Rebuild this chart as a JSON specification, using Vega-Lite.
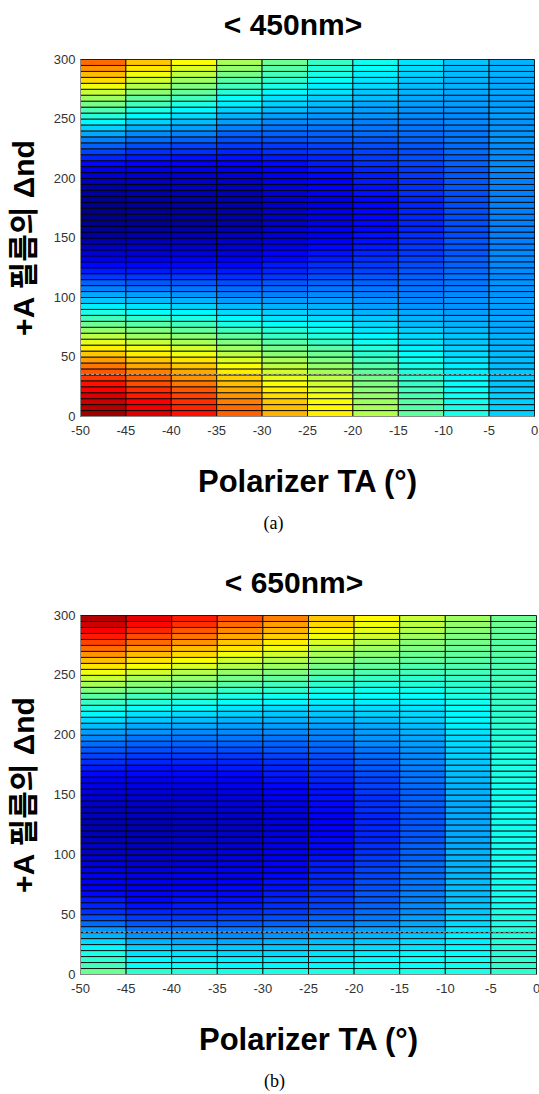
{
"$schema": "https://vega.github.io/schema/vega-lite/v6.json",
"background": "white",
"padding": {"left": 9, "top": 11, "right": 0, "bottom": 0},
"config": {
  "view": {"stroke": null},
  "font": "Liberation Sans",
  "title": {"font": "Liberation Sans", "fontSize": 30, "fontWeight": "bold", "color": "black"},
  "axis": {"labelFont": "Liberation Sans", "labelFontSize": 13, "labelColor": "#333", "labelFlush": false, "ticks": false, "grid": false, "domainColor": "#888", "titleFont": "Liberation Sans, Noto Sans CJK KR", "titleFontWeight": "bold", "titleColor": "black"},
  "concat": {"spacing": 36}
},
"datasets": {
"a": [
{"x":-50,"y":0,"v":0.97},{"x":-50,"y":5,"v":0.95},{"x":-50,"y":10,"v":0.93},{"x":-50,"y":15,"v":0.91},{"x":-50,"y":20,"v":0.88},{"x":-50,"y":25,"v":0.86},{"x":-50,"y":30,"v":0.82},{"x":-50,"y":35,"v":0.79},{"x":-50,"y":40,"v":0.76},{"x":-50,"y":45,"v":0.72},{"x":-50,"y":50,"v":0.68},{"x":-50,"y":55,"v":0.64},{"x":-50,"y":60,"v":0.60},{"x":-50,"y":65,"v":0.56},{"x":-50,"y":70,"v":0.52},{"x":-50,"y":75,"v":0.48},{"x":-50,"y":80,"v":0.44},{"x":-50,"y":85,"v":0.40},{"x":-50,"y":90,"v":0.36},{"x":-50,"y":95,"v":0.32},{"x":-50,"y":100,"v":0.29},{"x":-50,"y":105,"v":0.25},{"x":-50,"y":110,"v":0.22},{"x":-50,"y":115,"v":0.18},{"x":-50,"y":120,"v":0.15},{"x":-50,"y":125,"v":0.13},{"x":-50,"y":130,"v":0.10},{"x":-50,"y":135,"v":0.08},{"x":-50,"y":140,"v":0.06},{"x":-50,"y":145,"v":0.04},{"x":-50,"y":150,"v":0.03},{"x":-50,"y":155,"v":0.02},{"x":-50,"y":160,"v":0.01},{"x":-50,"y":165,"v":0.01},
{"x":-50,"y":170,"v":0.01},{"x":-50,"y":175,"v":0.01},{"x":-50,"y":180,"v":0.02},{"x":-50,"y":185,"v":0.03},{"x":-50,"y":190,"v":0.04},{"x":-50,"y":195,"v":0.06},{"x":-50,"y":200,"v":0.08},{"x":-50,"y":205,"v":0.10},{"x":-50,"y":210,"v":0.13},{"x":-50,"y":215,"v":0.16},{"x":-50,"y":220,"v":0.19},{"x":-50,"y":225,"v":0.22},{"x":-50,"y":230,"v":0.25},{"x":-50,"y":235,"v":0.29},{"x":-50,"y":240,"v":0.33},{"x":-50,"y":245,"v":0.37},{"x":-50,"y":250,"v":0.41},{"x":-50,"y":255,"v":0.45},{"x":-50,"y":260,"v":0.49},{"x":-50,"y":265,"v":0.53},{"x":-50,"y":270,"v":0.57},{"x":-50,"y":275,"v":0.61},{"x":-50,"y":280,"v":0.66},{"x":-50,"y":285,"v":0.69},{"x":-50,"y":290,"v":0.73},{"x":-50,"y":295,"v":0.77},
{"x":-45,"y":0,"v":0.91},{"x":-45,"y":5,"v":0.89},{"x":-45,"y":10,"v":0.88},{"x":-45,"y":15,"v":0.85},{"x":-45,"y":20,"v":0.83},{"x":-45,"y":25,"v":0.80},{"x":-45,"y":30,"v":0.78},{"x":-45,"y":35,"v":0.75},{"x":-45,"y":40,"v":0.71},{"x":-45,"y":45,"v":0.68},{"x":-45,"y":50,"v":0.64},{"x":-45,"y":55,"v":0.61},{"x":-45,"y":60,"v":0.57},{"x":-45,"y":65,"v":0.53},{"x":-45,"y":70,"v":0.50},{"x":-45,"y":75,"v":0.46},{"x":-45,"y":80,"v":0.42},{"x":-45,"y":85,"v":0.38},{"x":-45,"y":90,"v":0.35},{"x":-45,"y":95,"v":0.31},{"x":-45,"y":100,"v":0.28},{"x":-45,"y":105,"v":0.24},{"x":-45,"y":110,"v":0.21},{"x":-45,"y":115,"v":0.18},{"x":-45,"y":120,"v":0.15},{"x":-45,"y":125,"v":0.13},{"x":-45,"y":130,"v":0.10},{"x":-45,"y":135,"v":0.08},{"x":-45,"y":140,"v":0.07},{"x":-45,"y":145,"v":0.05},{"x":-45,"y":150,"v":0.04},{"x":-45,"y":155,"v":0.03},{"x":-45,"y":160,"v":0.02},{"x":-45,"y":165,"v":0.02},
{"x":-45,"y":170,"v":0.02},{"x":-45,"y":175,"v":0.02},{"x":-45,"y":180,"v":0.03},{"x":-45,"y":185,"v":0.04},{"x":-45,"y":190,"v":0.05},{"x":-45,"y":195,"v":0.06},{"x":-45,"y":200,"v":0.08},{"x":-45,"y":205,"v":0.10},{"x":-45,"y":210,"v":0.12},{"x":-45,"y":215,"v":0.15},{"x":-45,"y":220,"v":0.17},{"x":-45,"y":225,"v":0.20},{"x":-45,"y":230,"v":0.23},{"x":-45,"y":235,"v":0.26},{"x":-45,"y":240,"v":0.30},{"x":-45,"y":245,"v":0.33},{"x":-45,"y":250,"v":0.37},{"x":-45,"y":255,"v":0.40},{"x":-45,"y":260,"v":0.44},{"x":-45,"y":265,"v":0.47},{"x":-45,"y":270,"v":0.51},{"x":-45,"y":275,"v":0.55},{"x":-45,"y":280,"v":0.58},{"x":-45,"y":285,"v":0.61},{"x":-45,"y":290,"v":0.65},{"x":-45,"y":295,"v":0.68},
{"x":-40,"y":0,"v":0.86},{"x":-40,"y":5,"v":0.84},{"x":-40,"y":10,"v":0.83},{"x":-40,"y":15,"v":0.81},{"x":-40,"y":20,"v":0.79},{"x":-40,"y":25,"v":0.76},{"x":-40,"y":30,"v":0.73},{"x":-40,"y":35,"v":0.71},{"x":-40,"y":40,"v":0.68},{"x":-40,"y":45,"v":0.65},{"x":-40,"y":50,"v":0.61},{"x":-40,"y":55,"v":0.58},{"x":-40,"y":60,"v":0.54},{"x":-40,"y":65,"v":0.51},{"x":-40,"y":70,"v":0.47},{"x":-40,"y":75,"v":0.44},{"x":-40,"y":80,"v":0.40},{"x":-40,"y":85,"v":0.37},{"x":-40,"y":90,"v":0.33},{"x":-40,"y":95,"v":0.30},{"x":-40,"y":100,"v":0.27},{"x":-40,"y":105,"v":0.24},{"x":-40,"y":110,"v":0.21},{"x":-40,"y":115,"v":0.18},{"x":-40,"y":120,"v":0.15},{"x":-40,"y":125,"v":0.13},{"x":-40,"y":130,"v":0.11},{"x":-40,"y":135,"v":0.09},{"x":-40,"y":140,"v":0.07},{"x":-40,"y":145,"v":0.06},{"x":-40,"y":150,"v":0.05},{"x":-40,"y":155,"v":0.04},{"x":-40,"y":160,"v":0.03},{"x":-40,"y":165,"v":0.03},
{"x":-40,"y":170,"v":0.03},{"x":-40,"y":175,"v":0.03},{"x":-40,"y":180,"v":0.04},{"x":-40,"y":185,"v":0.05},{"x":-40,"y":190,"v":0.06},{"x":-40,"y":195,"v":0.07},{"x":-40,"y":200,"v":0.08},{"x":-40,"y":205,"v":0.10},{"x":-40,"y":210,"v":0.12},{"x":-40,"y":215,"v":0.14},{"x":-40,"y":220,"v":0.17},{"x":-40,"y":225,"v":0.19},{"x":-40,"y":230,"v":0.22},{"x":-40,"y":235,"v":0.25},{"x":-40,"y":240,"v":0.28},{"x":-40,"y":245,"v":0.31},{"x":-40,"y":250,"v":0.34},{"x":-40,"y":255,"v":0.37},{"x":-40,"y":260,"v":0.40},{"x":-40,"y":265,"v":0.44},{"x":-40,"y":270,"v":0.47},{"x":-40,"y":275,"v":0.50},{"x":-40,"y":280,"v":0.53},{"x":-40,"y":285,"v":0.56},{"x":-40,"y":290,"v":0.59},{"x":-40,"y":295,"v":0.62},
{"x":-35,"y":0,"v":0.78},{"x":-35,"y":5,"v":0.77},{"x":-35,"y":10,"v":0.75},{"x":-35,"y":15,"v":0.73},{"x":-35,"y":20,"v":0.71},{"x":-35,"y":25,"v":0.69},{"x":-35,"y":30,"v":0.67},{"x":-35,"y":35,"v":0.64},{"x":-35,"y":40,"v":0.62},{"x":-35,"y":45,"v":0.59},{"x":-35,"y":50,"v":0.56},{"x":-35,"y":55,"v":0.53},{"x":-35,"y":60,"v":0.50},{"x":-35,"y":65,"v":0.47},{"x":-35,"y":70,"v":0.44},{"x":-35,"y":75,"v":0.40},{"x":-35,"y":80,"v":0.37},{"x":-35,"y":85,"v":0.34},{"x":-35,"y":90,"v":0.31},{"x":-35,"y":95,"v":0.28},{"x":-35,"y":100,"v":0.25},{"x":-35,"y":105,"v":0.23},{"x":-35,"y":110,"v":0.20},{"x":-35,"y":115,"v":0.17},{"x":-35,"y":120,"v":0.15},{"x":-35,"y":125,"v":0.13},{"x":-35,"y":130,"v":0.11},{"x":-35,"y":135,"v":0.09},{"x":-35,"y":140,"v":0.08},{"x":-35,"y":145,"v":0.07},{"x":-35,"y":150,"v":0.06},{"x":-35,"y":155,"v":0.05},{"x":-35,"y":160,"v":0.04},{"x":-35,"y":165,"v":0.04},
{"x":-35,"y":170,"v":0.04},{"x":-35,"y":175,"v":0.04},{"x":-35,"y":180,"v":0.05},{"x":-35,"y":185,"v":0.05},{"x":-35,"y":190,"v":0.06},{"x":-35,"y":195,"v":0.07},{"x":-35,"y":200,"v":0.09},{"x":-35,"y":205,"v":0.10},{"x":-35,"y":210,"v":0.12},{"x":-35,"y":215,"v":0.14},{"x":-35,"y":220,"v":0.16},{"x":-35,"y":225,"v":0.18},{"x":-35,"y":230,"v":0.20},{"x":-35,"y":235,"v":0.22},{"x":-35,"y":240,"v":0.25},{"x":-35,"y":245,"v":0.28},{"x":-35,"y":250,"v":0.30},{"x":-35,"y":255,"v":0.33},{"x":-35,"y":260,"v":0.36},{"x":-35,"y":265,"v":0.38},{"x":-35,"y":270,"v":0.41},{"x":-35,"y":275,"v":0.44},{"x":-35,"y":280,"v":0.46},{"x":-35,"y":285,"v":0.49},{"x":-35,"y":290,"v":0.52},{"x":-35,"y":295,"v":0.54},
{"x":-30,"y":0,"v":0.70},{"x":-30,"y":5,"v":0.69},{"x":-30,"y":10,"v":0.68},{"x":-30,"y":15,"v":0.66},{"x":-30,"y":20,"v":0.64},{"x":-30,"y":25,"v":0.62},{"x":-30,"y":30,"v":0.60},{"x":-30,"y":35,"v":0.58},{"x":-30,"y":40,"v":0.56},{"x":-30,"y":45,"v":0.54},{"x":-30,"y":50,"v":0.51},{"x":-30,"y":55,"v":0.49},{"x":-30,"y":60,"v":0.46},{"x":-30,"y":65,"v":0.43},{"x":-30,"y":70,"v":0.41},{"x":-30,"y":75,"v":0.38},{"x":-30,"y":80,"v":0.35},{"x":-30,"y":85,"v":0.33},{"x":-30,"y":90,"v":0.30},{"x":-30,"y":95,"v":0.28},{"x":-30,"y":100,"v":0.25},{"x":-30,"y":105,"v":0.23},{"x":-30,"y":110,"v":0.21},{"x":-30,"y":115,"v":0.18},{"x":-30,"y":120,"v":0.16},{"x":-30,"y":125,"v":0.15},{"x":-30,"y":130,"v":0.13},{"x":-30,"y":135,"v":0.12},{"x":-30,"y":140,"v":0.10},{"x":-30,"y":145,"v":0.09},{"x":-30,"y":150,"v":0.08},{"x":-30,"y":155,"v":0.08},{"x":-30,"y":160,"v":0.07},{"x":-30,"y":165,"v":0.07},
{"x":-30,"y":170,"v":0.07},{"x":-30,"y":175,"v":0.07},{"x":-30,"y":180,"v":0.08},{"x":-30,"y":185,"v":0.08},{"x":-30,"y":190,"v":0.09},{"x":-30,"y":195,"v":0.10},{"x":-30,"y":200,"v":0.11},{"x":-30,"y":205,"v":0.12},{"x":-30,"y":210,"v":0.13},{"x":-30,"y":215,"v":0.15},{"x":-30,"y":220,"v":0.17},{"x":-30,"y":225,"v":0.18},{"x":-30,"y":230,"v":0.20},{"x":-30,"y":235,"v":0.22},{"x":-30,"y":240,"v":0.24},{"x":-30,"y":245,"v":0.26},{"x":-30,"y":250,"v":0.28},{"x":-30,"y":255,"v":0.31},{"x":-30,"y":260,"v":0.33},{"x":-30,"y":265,"v":0.35},{"x":-30,"y":270,"v":0.37},{"x":-30,"y":275,"v":0.40},{"x":-30,"y":280,"v":0.42},{"x":-30,"y":285,"v":0.44},{"x":-30,"y":290,"v":0.46},{"x":-30,"y":295,"v":0.48},
{"x":-25,"y":0,"v":0.64},{"x":-25,"y":5,"v":0.63},{"x":-25,"y":10,"v":0.62},{"x":-25,"y":15,"v":0.61},{"x":-25,"y":20,"v":0.59},{"x":-25,"y":25,"v":0.58},{"x":-25,"y":30,"v":0.56},{"x":-25,"y":35,"v":0.54},{"x":-25,"y":40,"v":0.52},{"x":-25,"y":45,"v":0.50},{"x":-25,"y":50,"v":0.48},{"x":-25,"y":55,"v":0.46},{"x":-25,"y":60,"v":0.43},{"x":-25,"y":65,"v":0.41},{"x":-25,"y":70,"v":0.39},{"x":-25,"y":75,"v":0.37},{"x":-25,"y":80,"v":0.34},{"x":-25,"y":85,"v":0.32},{"x":-25,"y":90,"v":0.30},{"x":-25,"y":95,"v":0.28},{"x":-25,"y":100,"v":0.26},{"x":-25,"y":105,"v":0.24},{"x":-25,"y":110,"v":0.22},{"x":-25,"y":115,"v":0.20},{"x":-25,"y":120,"v":0.18},{"x":-25,"y":125,"v":0.17},{"x":-25,"y":130,"v":0.15},{"x":-25,"y":135,"v":0.14},{"x":-25,"y":140,"v":0.13},{"x":-25,"y":145,"v":0.12},{"x":-25,"y":150,"v":0.11},{"x":-25,"y":155,"v":0.11},{"x":-25,"y":160,"v":0.10},{"x":-25,"y":165,"v":0.10},
{"x":-25,"y":170,"v":0.10},{"x":-25,"y":175,"v":0.10},{"x":-25,"y":180,"v":0.10},{"x":-25,"y":185,"v":0.11},{"x":-25,"y":190,"v":0.12},{"x":-25,"y":195,"v":0.12},{"x":-25,"y":200,"v":0.13},{"x":-25,"y":205,"v":0.14},{"x":-25,"y":210,"v":0.15},{"x":-25,"y":215,"v":0.16},{"x":-25,"y":220,"v":0.18},{"x":-25,"y":225,"v":0.19},{"x":-25,"y":230,"v":0.21},{"x":-25,"y":235,"v":0.22},{"x":-25,"y":240,"v":0.24},{"x":-25,"y":245,"v":0.26},{"x":-25,"y":250,"v":0.27},{"x":-25,"y":255,"v":0.29},{"x":-25,"y":260,"v":0.31},{"x":-25,"y":265,"v":0.33},{"x":-25,"y":270,"v":0.35},{"x":-25,"y":275,"v":0.36},{"x":-25,"y":280,"v":0.38},{"x":-25,"y":285,"v":0.40},{"x":-25,"y":290,"v":0.41},{"x":-25,"y":295,"v":0.43},
{"x":-20,"y":0,"v":0.55},{"x":-20,"y":5,"v":0.54},{"x":-20,"y":10,"v":0.53},{"x":-20,"y":15,"v":0.52},{"x":-20,"y":20,"v":0.51},{"x":-20,"y":25,"v":0.50},{"x":-20,"y":30,"v":0.49},{"x":-20,"y":35,"v":0.47},{"x":-20,"y":40,"v":0.46},{"x":-20,"y":45,"v":0.44},{"x":-20,"y":50,"v":0.42},{"x":-20,"y":55,"v":0.41},{"x":-20,"y":60,"v":0.39},{"x":-20,"y":65,"v":0.37},{"x":-20,"y":70,"v":0.35},{"x":-20,"y":75,"v":0.34},{"x":-20,"y":80,"v":0.32},{"x":-20,"y":85,"v":0.30},{"x":-20,"y":90,"v":0.28},{"x":-20,"y":95,"v":0.27},{"x":-20,"y":100,"v":0.25},{"x":-20,"y":105,"v":0.24},{"x":-20,"y":110,"v":0.22},{"x":-20,"y":115,"v":0.21},{"x":-20,"y":120,"v":0.19},{"x":-20,"y":125,"v":0.18},{"x":-20,"y":130,"v":0.17},{"x":-20,"y":135,"v":0.16},{"x":-20,"y":140,"v":0.15},{"x":-20,"y":145,"v":0.14},{"x":-20,"y":150,"v":0.14},{"x":-20,"y":155,"v":0.13},{"x":-20,"y":160,"v":0.13},{"x":-20,"y":165,"v":0.13},
{"x":-20,"y":170,"v":0.13},{"x":-20,"y":175,"v":0.13},{"x":-20,"y":180,"v":0.13},{"x":-20,"y":185,"v":0.14},{"x":-20,"y":190,"v":0.14},{"x":-20,"y":195,"v":0.15},{"x":-20,"y":200,"v":0.15},{"x":-20,"y":205,"v":0.16},{"x":-20,"y":210,"v":0.17},{"x":-20,"y":215,"v":0.18},{"x":-20,"y":220,"v":0.19},{"x":-20,"y":225,"v":0.20},{"x":-20,"y":230,"v":0.21},{"x":-20,"y":235,"v":0.23},{"x":-20,"y":240,"v":0.24},{"x":-20,"y":245,"v":0.25},{"x":-20,"y":250,"v":0.27},{"x":-20,"y":255,"v":0.28},{"x":-20,"y":260,"v":0.29},{"x":-20,"y":265,"v":0.31},{"x":-20,"y":270,"v":0.32},{"x":-20,"y":275,"v":0.34},{"x":-20,"y":280,"v":0.35},{"x":-20,"y":285,"v":0.36},{"x":-20,"y":290,"v":0.38},{"x":-20,"y":295,"v":0.39},
{"x":-15,"y":0,"v":0.47},{"x":-15,"y":5,"v":0.46},{"x":-15,"y":10,"v":0.46},{"x":-15,"y":15,"v":0.45},{"x":-15,"y":20,"v":0.44},{"x":-15,"y":25,"v":0.43},{"x":-15,"y":30,"v":0.42},{"x":-15,"y":35,"v":0.41},{"x":-15,"y":40,"v":0.40},{"x":-15,"y":45,"v":0.39},{"x":-15,"y":50,"v":0.38},{"x":-15,"y":55,"v":0.36},{"x":-15,"y":60,"v":0.35},{"x":-15,"y":65,"v":0.34},{"x":-15,"y":70,"v":0.33},{"x":-15,"y":75,"v":0.31},{"x":-15,"y":80,"v":0.30},{"x":-15,"y":85,"v":0.29},{"x":-15,"y":90,"v":0.27},{"x":-15,"y":95,"v":0.26},{"x":-15,"y":100,"v":0.25},{"x":-15,"y":105,"v":0.24},{"x":-15,"y":110,"v":0.23},{"x":-15,"y":115,"v":0.22},{"x":-15,"y":120,"v":0.21},{"x":-15,"y":125,"v":0.20},{"x":-15,"y":130,"v":0.19},{"x":-15,"y":135,"v":0.18},{"x":-15,"y":140,"v":0.18},{"x":-15,"y":145,"v":0.17},{"x":-15,"y":150,"v":0.17},{"x":-15,"y":155,"v":0.16},{"x":-15,"y":160,"v":0.16},{"x":-15,"y":165,"v":0.16},
{"x":-15,"y":170,"v":0.16},{"x":-15,"y":175,"v":0.16},{"x":-15,"y":180,"v":0.16},{"x":-15,"y":185,"v":0.17},{"x":-15,"y":190,"v":0.17},{"x":-15,"y":195,"v":0.17},{"x":-15,"y":200,"v":0.18},{"x":-15,"y":205,"v":0.18},{"x":-15,"y":210,"v":0.19},{"x":-15,"y":215,"v":0.20},{"x":-15,"y":220,"v":0.20},{"x":-15,"y":225,"v":0.21},{"x":-15,"y":230,"v":0.22},{"x":-15,"y":235,"v":0.23},{"x":-15,"y":240,"v":0.24},{"x":-15,"y":245,"v":0.25},{"x":-15,"y":250,"v":0.26},{"x":-15,"y":255,"v":0.27},{"x":-15,"y":260,"v":0.28},{"x":-15,"y":265,"v":0.29},{"x":-15,"y":270,"v":0.30},{"x":-15,"y":275,"v":0.31},{"x":-15,"y":280,"v":0.32},{"x":-15,"y":285,"v":0.33},{"x":-15,"y":290,"v":0.34},{"x":-15,"y":295,"v":0.35},
{"x":-10,"y":0,"v":0.40},{"x":-10,"y":5,"v":0.40},{"x":-10,"y":10,"v":0.39},{"x":-10,"y":15,"v":0.39},{"x":-10,"y":20,"v":0.38},{"x":-10,"y":25,"v":0.38},{"x":-10,"y":30,"v":0.37},{"x":-10,"y":35,"v":0.36},{"x":-10,"y":40,"v":0.36},{"x":-10,"y":45,"v":0.35},{"x":-10,"y":50,"v":0.34},{"x":-10,"y":55,"v":0.33},{"x":-10,"y":60,"v":0.32},{"x":-10,"y":65,"v":0.32},{"x":-10,"y":70,"v":0.31},{"x":-10,"y":75,"v":0.30},{"x":-10,"y":80,"v":0.29},{"x":-10,"y":85,"v":0.28},{"x":-10,"y":90,"v":0.27},{"x":-10,"y":95,"v":0.27},{"x":-10,"y":100,"v":0.26},{"x":-10,"y":105,"v":0.25},{"x":-10,"y":110,"v":0.24},{"x":-10,"y":115,"v":0.24},{"x":-10,"y":120,"v":0.23},{"x":-10,"y":125,"v":0.22},{"x":-10,"y":130,"v":0.22},{"x":-10,"y":135,"v":0.21},{"x":-10,"y":140,"v":0.21},{"x":-10,"y":145,"v":0.21},{"x":-10,"y":150,"v":0.20},{"x":-10,"y":155,"v":0.20},{"x":-10,"y":160,"v":0.20},{"x":-10,"y":165,"v":0.20},
{"x":-10,"y":170,"v":0.20},{"x":-10,"y":175,"v":0.20},{"x":-10,"y":180,"v":0.20},{"x":-10,"y":185,"v":0.20},{"x":-10,"y":190,"v":0.21},{"x":-10,"y":195,"v":0.21},{"x":-10,"y":200,"v":0.21},{"x":-10,"y":205,"v":0.21},{"x":-10,"y":210,"v":0.22},{"x":-10,"y":215,"v":0.22},{"x":-10,"y":220,"v":0.23},{"x":-10,"y":225,"v":0.23},{"x":-10,"y":230,"v":0.24},{"x":-10,"y":235,"v":0.24},{"x":-10,"y":240,"v":0.25},{"x":-10,"y":245,"v":0.26},{"x":-10,"y":250,"v":0.26},{"x":-10,"y":255,"v":0.27},{"x":-10,"y":260,"v":0.28},{"x":-10,"y":265,"v":0.28},{"x":-10,"y":270,"v":0.29},{"x":-10,"y":275,"v":0.30},{"x":-10,"y":280,"v":0.30},{"x":-10,"y":285,"v":0.31},{"x":-10,"y":290,"v":0.31},{"x":-10,"y":295,"v":0.32},
{"x":-5,"y":0,"v":0.33},{"x":-5,"y":5,"v":0.33},{"x":-5,"y":10,"v":0.33},{"x":-5,"y":15,"v":0.33},{"x":-5,"y":20,"v":0.32},{"x":-5,"y":25,"v":0.32},{"x":-5,"y":30,"v":0.32},{"x":-5,"y":35,"v":0.32},{"x":-5,"y":40,"v":0.31},{"x":-5,"y":45,"v":0.31},{"x":-5,"y":50,"v":0.31},{"x":-5,"y":55,"v":0.30},{"x":-5,"y":60,"v":0.30},{"x":-5,"y":65,"v":0.30},{"x":-5,"y":70,"v":0.29},{"x":-5,"y":75,"v":0.29},{"x":-5,"y":80,"v":0.29},{"x":-5,"y":85,"v":0.28},{"x":-5,"y":90,"v":0.28},{"x":-5,"y":95,"v":0.28},{"x":-5,"y":100,"v":0.27},{"x":-5,"y":105,"v":0.27},{"x":-5,"y":110,"v":0.27},{"x":-5,"y":115,"v":0.26},{"x":-5,"y":120,"v":0.26},{"x":-5,"y":125,"v":0.26},{"x":-5,"y":130,"v":0.26},{"x":-5,"y":135,"v":0.26},{"x":-5,"y":140,"v":0.25},{"x":-5,"y":145,"v":0.25},{"x":-5,"y":150,"v":0.25},{"x":-5,"y":155,"v":0.25},{"x":-5,"y":160,"v":0.25},{"x":-5,"y":165,"v":0.25},
{"x":-5,"y":170,"v":0.25},{"x":-5,"y":175,"v":0.25},{"x":-5,"y":180,"v":0.25},{"x":-5,"y":185,"v":0.25},{"x":-5,"y":190,"v":0.25},{"x":-5,"y":195,"v":0.25},{"x":-5,"y":200,"v":0.25},{"x":-5,"y":205,"v":0.26},{"x":-5,"y":210,"v":0.26},{"x":-5,"y":215,"v":0.26},{"x":-5,"y":220,"v":0.26},{"x":-5,"y":225,"v":0.26},{"x":-5,"y":230,"v":0.27},{"x":-5,"y":235,"v":0.27},{"x":-5,"y":240,"v":0.27},{"x":-5,"y":245,"v":0.27},{"x":-5,"y":250,"v":0.28},{"x":-5,"y":255,"v":0.28},{"x":-5,"y":260,"v":0.28},{"x":-5,"y":265,"v":0.28},{"x":-5,"y":270,"v":0.29},{"x":-5,"y":275,"v":0.29},{"x":-5,"y":280,"v":0.29},{"x":-5,"y":285,"v":0.30},{"x":-5,"y":290,"v":0.30},{"x":-5,"y":295,"v":0.30}
],
"b": [
{"x":-50,"y":0,"v":0.48},{"x":-50,"y":5,"v":0.44},{"x":-50,"y":10,"v":0.42},{"x":-50,"y":15,"v":0.40},{"x":-50,"y":20,"v":0.37},{"x":-50,"y":25,"v":0.34},{"x":-50,"y":30,"v":0.30},{"x":-50,"y":35,"v":0.27},{"x":-50,"y":40,"v":0.23},{"x":-50,"y":45,"v":0.20},{"x":-50,"y":50,"v":0.17},{"x":-50,"y":55,"v":0.16},{"x":-50,"y":60,"v":0.15},{"x":-50,"y":65,"v":0.13},{"x":-50,"y":70,"v":0.12},{"x":-50,"y":75,"v":0.11},{"x":-50,"y":80,"v":0.11},{"x":-50,"y":85,"v":0.10},{"x":-50,"y":90,"v":0.09},{"x":-50,"y":95,"v":0.08},{"x":-50,"y":100,"v":0.07},{"x":-50,"y":105,"v":0.07},{"x":-50,"y":110,"v":0.06},{"x":-50,"y":115,"v":0.05},{"x":-50,"y":120,"v":0.05},
{"x":-50,"y":125,"v":0.05},{"x":-50,"y":130,"v":0.06},{"x":-50,"y":135,"v":0.06},{"x":-50,"y":140,"v":0.07},{"x":-50,"y":145,"v":0.08},{"x":-50,"y":150,"v":0.09},{"x":-50,"y":155,"v":0.10},{"x":-50,"y":160,"v":0.11},{"x":-50,"y":165,"v":0.13},{"x":-50,"y":170,"v":0.15},{"x":-50,"y":175,"v":0.17},{"x":-50,"y":180,"v":0.19},{"x":-50,"y":185,"v":0.21},{"x":-50,"y":190,"v":0.23},{"x":-50,"y":195,"v":0.26},{"x":-50,"y":200,"v":0.28},{"x":-50,"y":205,"v":0.31},{"x":-50,"y":210,"v":0.34},{"x":-50,"y":215,"v":0.37},{"x":-50,"y":220,"v":0.40},{"x":-50,"y":225,"v":0.43},{"x":-50,"y":230,"v":0.46},{"x":-50,"y":235,"v":0.50},{"x":-50,"y":240,"v":0.54},{"x":-50,"y":245,"v":0.57},{"x":-50,"y":250,"v":0.61},{"x":-50,"y":255,"v":0.65},{"x":-50,"y":260,"v":0.69},{"x":-50,"y":265,"v":0.73},{"x":-50,"y":270,"v":0.77},{"x":-50,"y":275,"v":0.81},{"x":-50,"y":280,"v":0.85},{"x":-50,"y":285,"v":0.88},{"x":-50,"y":290,"v":0.92},{"x":-50,"y":295,"v":0.95},
{"x":-45,"y":0,"v":0.42},{"x":-45,"y":5,"v":0.38},{"x":-45,"y":10,"v":0.37},{"x":-45,"y":15,"v":0.35},{"x":-45,"y":20,"v":0.33},{"x":-45,"y":25,"v":0.30},{"x":-45,"y":30,"v":0.27},{"x":-45,"y":35,"v":0.24},{"x":-45,"y":40,"v":0.21},{"x":-45,"y":45,"v":0.18},{"x":-45,"y":50,"v":0.16},{"x":-45,"y":55,"v":0.14},{"x":-45,"y":60,"v":0.13},{"x":-45,"y":65,"v":0.12},{"x":-45,"y":70,"v":0.11},{"x":-45,"y":75,"v":0.11},{"x":-45,"y":80,"v":0.10},{"x":-45,"y":85,"v":0.09},{"x":-45,"y":90,"v":0.08},{"x":-45,"y":95,"v":0.08},{"x":-45,"y":100,"v":0.07},{"x":-45,"y":105,"v":0.06},{"x":-45,"y":110,"v":0.06},{"x":-45,"y":115,"v":0.05},{"x":-45,"y":120,"v":0.05},
{"x":-45,"y":125,"v":0.05},{"x":-45,"y":130,"v":0.06},{"x":-45,"y":135,"v":0.06},{"x":-45,"y":140,"v":0.07},{"x":-45,"y":145,"v":0.08},{"x":-45,"y":150,"v":0.09},{"x":-45,"y":155,"v":0.10},{"x":-45,"y":160,"v":0.11},{"x":-45,"y":165,"v":0.13},{"x":-45,"y":170,"v":0.14},{"x":-45,"y":175,"v":0.16},{"x":-45,"y":180,"v":0.18},{"x":-45,"y":185,"v":0.20},{"x":-45,"y":190,"v":0.22},{"x":-45,"y":195,"v":0.24},{"x":-45,"y":200,"v":0.27},{"x":-45,"y":205,"v":0.29},{"x":-45,"y":210,"v":0.32},{"x":-45,"y":215,"v":0.35},{"x":-45,"y":220,"v":0.38},{"x":-45,"y":225,"v":0.41},{"x":-45,"y":230,"v":0.44},{"x":-45,"y":235,"v":0.48},{"x":-45,"y":240,"v":0.51},{"x":-45,"y":245,"v":0.54},{"x":-45,"y":250,"v":0.58},{"x":-45,"y":255,"v":0.62},{"x":-45,"y":260,"v":0.65},{"x":-45,"y":265,"v":0.69},{"x":-45,"y":270,"v":0.73},{"x":-45,"y":275,"v":0.77},{"x":-45,"y":280,"v":0.80},{"x":-45,"y":285,"v":0.84},{"x":-45,"y":290,"v":0.87},{"x":-45,"y":295,"v":0.90},
{"x":-40,"y":0,"v":0.41},{"x":-40,"y":5,"v":0.38},{"x":-40,"y":10,"v":0.36},{"x":-40,"y":15,"v":0.35},{"x":-40,"y":20,"v":0.32},{"x":-40,"y":25,"v":0.29},{"x":-40,"y":30,"v":0.27},{"x":-40,"y":35,"v":0.24},{"x":-40,"y":40,"v":0.21},{"x":-40,"y":45,"v":0.18},{"x":-40,"y":50,"v":0.16},{"x":-40,"y":55,"v":0.15},{"x":-40,"y":60,"v":0.14},{"x":-40,"y":65,"v":0.13},{"x":-40,"y":70,"v":0.12},{"x":-40,"y":75,"v":0.11},{"x":-40,"y":80,"v":0.11},{"x":-40,"y":85,"v":0.10},{"x":-40,"y":90,"v":0.09},{"x":-40,"y":95,"v":0.08},{"x":-40,"y":100,"v":0.08},{"x":-40,"y":105,"v":0.07},{"x":-40,"y":110,"v":0.07},{"x":-40,"y":115,"v":0.06},{"x":-40,"y":120,"v":0.06},
{"x":-40,"y":125,"v":0.06},{"x":-40,"y":130,"v":0.06},{"x":-40,"y":135,"v":0.07},{"x":-40,"y":140,"v":0.08},{"x":-40,"y":145,"v":0.08},{"x":-40,"y":150,"v":0.09},{"x":-40,"y":155,"v":0.10},{"x":-40,"y":160,"v":0.12},{"x":-40,"y":165,"v":0.13},{"x":-40,"y":170,"v":0.14},{"x":-40,"y":175,"v":0.16},{"x":-40,"y":180,"v":0.18},{"x":-40,"y":185,"v":0.20},{"x":-40,"y":190,"v":0.22},{"x":-40,"y":195,"v":0.24},{"x":-40,"y":200,"v":0.26},{"x":-40,"y":205,"v":0.29},{"x":-40,"y":210,"v":0.31},{"x":-40,"y":215,"v":0.34},{"x":-40,"y":220,"v":0.37},{"x":-40,"y":225,"v":0.40},{"x":-40,"y":230,"v":0.43},{"x":-40,"y":235,"v":0.46},{"x":-40,"y":240,"v":0.49},{"x":-40,"y":245,"v":0.52},{"x":-40,"y":250,"v":0.55},{"x":-40,"y":255,"v":0.59},{"x":-40,"y":260,"v":0.62},{"x":-40,"y":265,"v":0.66},{"x":-40,"y":270,"v":0.69},{"x":-40,"y":275,"v":0.73},{"x":-40,"y":280,"v":0.76},{"x":-40,"y":285,"v":0.79},{"x":-40,"y":290,"v":0.83},{"x":-40,"y":295,"v":0.85},
{"x":-35,"y":0,"v":0.40},{"x":-35,"y":5,"v":0.37},{"x":-35,"y":10,"v":0.36},{"x":-35,"y":15,"v":0.34},{"x":-35,"y":20,"v":0.32},{"x":-35,"y":25,"v":0.29},{"x":-35,"y":30,"v":0.26},{"x":-35,"y":35,"v":0.24},{"x":-35,"y":40,"v":0.21},{"x":-35,"y":45,"v":0.19},{"x":-35,"y":50,"v":0.17},{"x":-35,"y":55,"v":0.15},{"x":-35,"y":60,"v":0.14},{"x":-35,"y":65,"v":0.13},{"x":-35,"y":70,"v":0.13},{"x":-35,"y":75,"v":0.12},{"x":-35,"y":80,"v":0.11},{"x":-35,"y":85,"v":0.11},{"x":-35,"y":90,"v":0.10},{"x":-35,"y":95,"v":0.09},{"x":-35,"y":100,"v":0.09},{"x":-35,"y":105,"v":0.08},{"x":-35,"y":110,"v":0.08},{"x":-35,"y":115,"v":0.07},{"x":-35,"y":120,"v":0.07},
{"x":-35,"y":125,"v":0.07},{"x":-35,"y":130,"v":0.07},{"x":-35,"y":135,"v":0.08},{"x":-35,"y":140,"v":0.09},{"x":-35,"y":145,"v":0.09},{"x":-35,"y":150,"v":0.10},{"x":-35,"y":155,"v":0.11},{"x":-35,"y":160,"v":0.12},{"x":-35,"y":165,"v":0.13},{"x":-35,"y":170,"v":0.15},{"x":-35,"y":175,"v":0.16},{"x":-35,"y":180,"v":0.18},{"x":-35,"y":185,"v":0.20},{"x":-35,"y":190,"v":0.22},{"x":-35,"y":195,"v":0.24},{"x":-35,"y":200,"v":0.26},{"x":-35,"y":205,"v":0.28},{"x":-35,"y":210,"v":0.30},{"x":-35,"y":215,"v":0.33},{"x":-35,"y":220,"v":0.35},{"x":-35,"y":225,"v":0.38},{"x":-35,"y":230,"v":0.40},{"x":-35,"y":235,"v":0.43},{"x":-35,"y":240,"v":0.46},{"x":-35,"y":245,"v":0.49},{"x":-35,"y":250,"v":0.52},{"x":-35,"y":255,"v":0.55},{"x":-35,"y":260,"v":0.58},{"x":-35,"y":265,"v":0.61},{"x":-35,"y":270,"v":0.65},{"x":-35,"y":275,"v":0.68},{"x":-35,"y":280,"v":0.71},{"x":-35,"y":285,"v":0.74},{"x":-35,"y":290,"v":0.77},{"x":-35,"y":295,"v":0.80},
{"x":-30,"y":0,"v":0.40},{"x":-30,"y":5,"v":0.37},{"x":-30,"y":10,"v":0.36},{"x":-30,"y":15,"v":0.34},{"x":-30,"y":20,"v":0.32},{"x":-30,"y":25,"v":0.30},{"x":-30,"y":30,"v":0.27},{"x":-30,"y":35,"v":0.25},{"x":-30,"y":40,"v":0.22},{"x":-30,"y":45,"v":0.20},{"x":-30,"y":50,"v":0.18},{"x":-30,"y":55,"v":0.17},{"x":-30,"y":60,"v":0.16},{"x":-30,"y":65,"v":0.15},{"x":-30,"y":70,"v":0.14},{"x":-30,"y":75,"v":0.14},{"x":-30,"y":80,"v":0.13},{"x":-30,"y":85,"v":0.12},{"x":-30,"y":90,"v":0.12},{"x":-30,"y":95,"v":0.11},{"x":-30,"y":100,"v":0.11},{"x":-30,"y":105,"v":0.10},{"x":-30,"y":110,"v":0.10},{"x":-30,"y":115,"v":0.09},{"x":-30,"y":120,"v":0.09},
{"x":-30,"y":125,"v":0.09},{"x":-30,"y":130,"v":0.09},{"x":-30,"y":135,"v":0.10},{"x":-30,"y":140,"v":0.10},{"x":-30,"y":145,"v":0.11},{"x":-30,"y":150,"v":0.12},{"x":-30,"y":155,"v":0.13},{"x":-30,"y":160,"v":0.14},{"x":-30,"y":165,"v":0.15},{"x":-30,"y":170,"v":0.16},{"x":-30,"y":175,"v":0.17},{"x":-30,"y":180,"v":0.19},{"x":-30,"y":185,"v":0.21},{"x":-30,"y":190,"v":0.22},{"x":-30,"y":195,"v":0.24},{"x":-30,"y":200,"v":0.26},{"x":-30,"y":205,"v":0.28},{"x":-30,"y":210,"v":0.30},{"x":-30,"y":215,"v":0.32},{"x":-30,"y":220,"v":0.34},{"x":-30,"y":225,"v":0.37},{"x":-30,"y":230,"v":0.39},{"x":-30,"y":235,"v":0.42},{"x":-30,"y":240,"v":0.44},{"x":-30,"y":245,"v":0.47},{"x":-30,"y":250,"v":0.50},{"x":-30,"y":255,"v":0.53},{"x":-30,"y":260,"v":0.55},{"x":-30,"y":265,"v":0.58},{"x":-30,"y":270,"v":0.61},{"x":-30,"y":275,"v":0.64},{"x":-30,"y":280,"v":0.67},{"x":-30,"y":285,"v":0.70},{"x":-30,"y":290,"v":0.72},{"x":-30,"y":295,"v":0.75},
{"x":-25,"y":0,"v":0.40},{"x":-25,"y":5,"v":0.37},{"x":-25,"y":10,"v":0.36},{"x":-25,"y":15,"v":0.35},{"x":-25,"y":20,"v":0.33},{"x":-25,"y":25,"v":0.31},{"x":-25,"y":30,"v":0.29},{"x":-25,"y":35,"v":0.26},{"x":-25,"y":40,"v":0.24},{"x":-25,"y":45,"v":0.22},{"x":-25,"y":50,"v":0.20},{"x":-25,"y":55,"v":0.19},{"x":-25,"y":60,"v":0.18},{"x":-25,"y":65,"v":0.17},{"x":-25,"y":70,"v":0.17},{"x":-25,"y":75,"v":0.16},{"x":-25,"y":80,"v":0.16},{"x":-25,"y":85,"v":0.15},{"x":-25,"y":90,"v":0.15},{"x":-25,"y":95,"v":0.14},{"x":-25,"y":100,"v":0.13},{"x":-25,"y":105,"v":0.13},{"x":-25,"y":110,"v":0.13},{"x":-25,"y":115,"v":0.12},{"x":-25,"y":120,"v":0.12},
{"x":-25,"y":125,"v":0.12},{"x":-25,"y":130,"v":0.12},{"x":-25,"y":135,"v":0.13},{"x":-25,"y":140,"v":0.13},{"x":-25,"y":145,"v":0.14},{"x":-25,"y":150,"v":0.14},{"x":-25,"y":155,"v":0.15},{"x":-25,"y":160,"v":0.16},{"x":-25,"y":165,"v":0.17},{"x":-25,"y":170,"v":0.18},{"x":-25,"y":175,"v":0.19},{"x":-25,"y":180,"v":0.20},{"x":-25,"y":185,"v":0.22},{"x":-25,"y":190,"v":0.23},{"x":-25,"y":195,"v":0.25},{"x":-25,"y":200,"v":0.26},{"x":-25,"y":205,"v":0.28},{"x":-25,"y":210,"v":0.30},{"x":-25,"y":215,"v":0.32},{"x":-25,"y":220,"v":0.34},{"x":-25,"y":225,"v":0.36},{"x":-25,"y":230,"v":0.38},{"x":-25,"y":235,"v":0.40},{"x":-25,"y":240,"v":0.42},{"x":-25,"y":245,"v":0.44},{"x":-25,"y":250,"v":0.47},{"x":-25,"y":255,"v":0.49},{"x":-25,"y":260,"v":0.52},{"x":-25,"y":265,"v":0.54},{"x":-25,"y":270,"v":0.56},{"x":-25,"y":275,"v":0.59},{"x":-25,"y":280,"v":0.61},{"x":-25,"y":285,"v":0.64},{"x":-25,"y":290,"v":0.66},{"x":-25,"y":295,"v":0.68},
{"x":-20,"y":0,"v":0.40},{"x":-20,"y":5,"v":0.38},{"x":-20,"y":10,"v":0.37},{"x":-20,"y":15,"v":0.36},{"x":-20,"y":20,"v":0.34},{"x":-20,"y":25,"v":0.32},{"x":-20,"y":30,"v":0.30},{"x":-20,"y":35,"v":0.28},{"x":-20,"y":40,"v":0.26},{"x":-20,"y":45,"v":0.24},{"x":-20,"y":50,"v":0.23},{"x":-20,"y":55,"v":0.22},{"x":-20,"y":60,"v":0.21},{"x":-20,"y":65,"v":0.21},{"x":-20,"y":70,"v":0.20},{"x":-20,"y":75,"v":0.20},{"x":-20,"y":80,"v":0.19},{"x":-20,"y":85,"v":0.19},{"x":-20,"y":90,"v":0.18},{"x":-20,"y":95,"v":0.18},{"x":-20,"y":100,"v":0.17},{"x":-20,"y":105,"v":0.17},{"x":-20,"y":110,"v":0.16},{"x":-20,"y":115,"v":0.16},{"x":-20,"y":120,"v":0.16},
{"x":-20,"y":125,"v":0.16},{"x":-20,"y":130,"v":0.16},{"x":-20,"y":135,"v":0.17},{"x":-20,"y":140,"v":0.17},{"x":-20,"y":145,"v":0.17},{"x":-20,"y":150,"v":0.18},{"x":-20,"y":155,"v":0.19},{"x":-20,"y":160,"v":0.19},{"x":-20,"y":165,"v":0.20},{"x":-20,"y":170,"v":0.21},{"x":-20,"y":175,"v":0.22},{"x":-20,"y":180,"v":0.23},{"x":-20,"y":185,"v":0.24},{"x":-20,"y":190,"v":0.26},{"x":-20,"y":195,"v":0.27},{"x":-20,"y":200,"v":0.28},{"x":-20,"y":205,"v":0.29},{"x":-20,"y":210,"v":0.31},{"x":-20,"y":215,"v":0.33},{"x":-20,"y":220,"v":0.34},{"x":-20,"y":225,"v":0.36},{"x":-20,"y":230,"v":0.38},{"x":-20,"y":235,"v":0.39},{"x":-20,"y":240,"v":0.41},{"x":-20,"y":245,"v":0.43},{"x":-20,"y":250,"v":0.45},{"x":-20,"y":255,"v":0.47},{"x":-20,"y":260,"v":0.49},{"x":-20,"y":265,"v":0.51},{"x":-20,"y":270,"v":0.53},{"x":-20,"y":275,"v":0.55},{"x":-20,"y":280,"v":0.58},{"x":-20,"y":285,"v":0.60},{"x":-20,"y":290,"v":0.61},{"x":-20,"y":295,"v":0.63},
{"x":-15,"y":0,"v":0.40},{"x":-15,"y":5,"v":0.38},{"x":-15,"y":10,"v":0.38},{"x":-15,"y":15,"v":0.37},{"x":-15,"y":20,"v":0.35},{"x":-15,"y":25,"v":0.34},{"x":-15,"y":30,"v":0.32},{"x":-15,"y":35,"v":0.30},{"x":-15,"y":40,"v":0.29},{"x":-15,"y":45,"v":0.28},{"x":-15,"y":50,"v":0.26},{"x":-15,"y":55,"v":0.26},{"x":-15,"y":60,"v":0.25},{"x":-15,"y":65,"v":0.25},{"x":-15,"y":70,"v":0.24},{"x":-15,"y":75,"v":0.24},{"x":-15,"y":80,"v":0.23},{"x":-15,"y":85,"v":0.23},{"x":-15,"y":90,"v":0.23},{"x":-15,"y":95,"v":0.22},{"x":-15,"y":100,"v":0.22},{"x":-15,"y":105,"v":0.22},{"x":-15,"y":110,"v":0.21},{"x":-15,"y":115,"v":0.21},{"x":-15,"y":120,"v":0.21},
{"x":-15,"y":125,"v":0.21},{"x":-15,"y":130,"v":0.21},{"x":-15,"y":135,"v":0.21},{"x":-15,"y":140,"v":0.22},{"x":-15,"y":145,"v":0.22},{"x":-15,"y":150,"v":0.22},{"x":-15,"y":155,"v":0.23},{"x":-15,"y":160,"v":0.24},{"x":-15,"y":165,"v":0.24},{"x":-15,"y":170,"v":0.25},{"x":-15,"y":175,"v":0.26},{"x":-15,"y":180,"v":0.26},{"x":-15,"y":185,"v":0.27},{"x":-15,"y":190,"v":0.28},{"x":-15,"y":195,"v":0.29},{"x":-15,"y":200,"v":0.30},{"x":-15,"y":205,"v":0.31},{"x":-15,"y":210,"v":0.33},{"x":-15,"y":215,"v":0.34},{"x":-15,"y":220,"v":0.35},{"x":-15,"y":225,"v":0.36},{"x":-15,"y":230,"v":0.38},{"x":-15,"y":235,"v":0.39},{"x":-15,"y":240,"v":0.41},{"x":-15,"y":245,"v":0.42},{"x":-15,"y":250,"v":0.44},{"x":-15,"y":255,"v":0.45},{"x":-15,"y":260,"v":0.47},{"x":-15,"y":265,"v":0.48},{"x":-15,"y":270,"v":0.50},{"x":-15,"y":275,"v":0.51},{"x":-15,"y":280,"v":0.53},{"x":-15,"y":285,"v":0.55},{"x":-15,"y":290,"v":0.56},{"x":-15,"y":295,"v":0.57},
{"x":-10,"y":0,"v":0.40},{"x":-10,"y":5,"v":0.39},{"x":-10,"y":10,"v":0.39},{"x":-10,"y":15,"v":0.38},{"x":-10,"y":20,"v":0.37},{"x":-10,"y":25,"v":0.36},{"x":-10,"y":30,"v":0.36},{"x":-10,"y":35,"v":0.35},{"x":-10,"y":40,"v":0.34},{"x":-10,"y":45,"v":0.33},{"x":-10,"y":50,"v":0.32},{"x":-10,"y":55,"v":0.32},{"x":-10,"y":60,"v":0.31},{"x":-10,"y":65,"v":0.31},{"x":-10,"y":70,"v":0.31},{"x":-10,"y":75,"v":0.31},{"x":-10,"y":80,"v":0.30},{"x":-10,"y":85,"v":0.30},{"x":-10,"y":90,"v":0.30},{"x":-10,"y":95,"v":0.30},{"x":-10,"y":100,"v":0.30},{"x":-10,"y":105,"v":0.29},{"x":-10,"y":110,"v":0.29},{"x":-10,"y":115,"v":0.29},{"x":-10,"y":120,"v":0.29},
{"x":-10,"y":125,"v":0.29},{"x":-10,"y":130,"v":0.29},{"x":-10,"y":135,"v":0.29},{"x":-10,"y":140,"v":0.29},{"x":-10,"y":145,"v":0.30},{"x":-10,"y":150,"v":0.30},{"x":-10,"y":155,"v":0.30},{"x":-10,"y":160,"v":0.31},{"x":-10,"y":165,"v":0.31},{"x":-10,"y":170,"v":0.32},{"x":-10,"y":175,"v":0.32},{"x":-10,"y":180,"v":0.33},{"x":-10,"y":185,"v":0.33},{"x":-10,"y":190,"v":0.34},{"x":-10,"y":195,"v":0.34},{"x":-10,"y":200,"v":0.35},{"x":-10,"y":205,"v":0.36},{"x":-10,"y":210,"v":0.37},{"x":-10,"y":215,"v":0.37},{"x":-10,"y":220,"v":0.38},{"x":-10,"y":225,"v":0.39},{"x":-10,"y":230,"v":0.40},{"x":-10,"y":235,"v":0.41},{"x":-10,"y":240,"v":0.42},{"x":-10,"y":245,"v":0.43},{"x":-10,"y":250,"v":0.44},{"x":-10,"y":255,"v":0.45},{"x":-10,"y":260,"v":0.46},{"x":-10,"y":265,"v":0.47},{"x":-10,"y":270,"v":0.48},{"x":-10,"y":275,"v":0.49},{"x":-10,"y":280,"v":0.50},{"x":-10,"y":285,"v":0.51},{"x":-10,"y":290,"v":0.52},{"x":-10,"y":295,"v":0.53},
{"x":-5,"y":0,"v":0.42},{"x":-5,"y":5,"v":0.42},{"x":-5,"y":10,"v":0.42},{"x":-5,"y":15,"v":0.41},{"x":-5,"y":20,"v":0.41},{"x":-5,"y":25,"v":0.41},{"x":-5,"y":30,"v":0.41},{"x":-5,"y":35,"v":0.41},{"x":-5,"y":40,"v":0.40},{"x":-5,"y":45,"v":0.40},{"x":-5,"y":50,"v":0.40},{"x":-5,"y":55,"v":0.39},{"x":-5,"y":60,"v":0.39},{"x":-5,"y":65,"v":0.39},{"x":-5,"y":70,"v":0.39},{"x":-5,"y":75,"v":0.39},{"x":-5,"y":80,"v":0.39},{"x":-5,"y":85,"v":0.39},{"x":-5,"y":90,"v":0.39},{"x":-5,"y":95,"v":0.39},{"x":-5,"y":100,"v":0.39},{"x":-5,"y":105,"v":0.39},{"x":-5,"y":110,"v":0.39},{"x":-5,"y":115,"v":0.39},{"x":-5,"y":120,"v":0.39},
{"x":-5,"y":125,"v":0.39},{"x":-5,"y":130,"v":0.39},{"x":-5,"y":135,"v":0.39},{"x":-5,"y":140,"v":0.39},{"x":-5,"y":145,"v":0.39},{"x":-5,"y":150,"v":0.39},{"x":-5,"y":155,"v":0.39},{"x":-5,"y":160,"v":0.40},{"x":-5,"y":165,"v":0.40},{"x":-5,"y":170,"v":0.40},{"x":-5,"y":175,"v":0.40},{"x":-5,"y":180,"v":0.40},{"x":-5,"y":185,"v":0.41},{"x":-5,"y":190,"v":0.41},{"x":-5,"y":195,"v":0.41},{"x":-5,"y":200,"v":0.41},{"x":-5,"y":205,"v":0.42},{"x":-5,"y":210,"v":0.42},{"x":-5,"y":215,"v":0.42},{"x":-5,"y":220,"v":0.42},{"x":-5,"y":225,"v":0.43},{"x":-5,"y":230,"v":0.43},{"x":-5,"y":235,"v":0.43},{"x":-5,"y":240,"v":0.44},{"x":-5,"y":245,"v":0.44},{"x":-5,"y":250,"v":0.44},{"x":-5,"y":255,"v":0.45},{"x":-5,"y":260,"v":0.45},{"x":-5,"y":265,"v":0.46},{"x":-5,"y":270,"v":0.46},{"x":-5,"y":275,"v":0.46},{"x":-5,"y":280,"v":0.47},{"x":-5,"y":285,"v":0.47},{"x":-5,"y":290,"v":0.48},{"x":-5,"y":295,"v":0.48}
]
},
"vconcat": [
  {
    "title": {"text": "(a)", "orient": "bottom", "anchor": "middle", "font": "Liberation Serif", "fontSize": 18, "fontWeight": "normal", "offset": 18},
    "vconcat": [{
      "title": {"text": "< 450nm>", "offset": 12, "frame": "group", "dx": -14},
      "width": 454, "height": 357,
      "layer": [
        {"data": {"name": "a"},
         "mark": {"type": "rect", "stroke": "black", "strokeWidth": 1, "strokeOpacity": 0.85},
         "encoding": {
           "x": {"field": "x", "type": "quantitative", "bin": {"binned": true, "step": 5}, "scale": {"domain": [-50, 0], "nice": false, "zero": false},
                 "axis": {"values": [-50,-45,-40,-35,-30,-25,-20,-15,-10,-5,0], "labelExpr": "'' + datum.value", "labelPadding": 8, "title": "Polarizer TA (°)", "titleFontSize": 31, "titlePadding": 30}},
           "y": {"field": "y", "type": "quantitative", "bin": {"binned": true, "step": 5}, "scale": {"domain": [0, 300], "nice": false},
                 "axis": {"values": [0,50,100,150,200,250,300], "labelExpr": "'' + datum.value", "labelPadding": 5, "title": "+A 필름의 Δnd", "titleFontSize": 30, "titlePadding": 14}},
           "color": {"field": "v", "type": "quantitative", "scale": {"domain": [0, 0.125, 0.375, 0.625, 0.875, 1], "range": ["#000080", "#0000ff", "#00ffff", "#ffff00", "#ff0000", "#800000"], "interpolate": "rgb"}, "legend": null}
         }},
        {"data": {"values": [{"ref": 35}]},
         "mark": {"type": "rule", "strokeDash": [3, 2], "color": "#9a9a9a", "strokeWidth": 1.2},
         "encoding": {"y": {"field": "ref", "type": "quantitative"}}}
      ]
    }]
  },
  {
    "title": {"text": "(b)", "orient": "bottom", "anchor": "middle", "font": "Liberation Serif", "fontSize": 18, "fontWeight": "normal", "offset": 18},
    "vconcat": [{
      "title": {"text": "< 650nm>", "offset": 10, "frame": "group", "dx": -14},
      "width": 456, "height": 359,
      "layer": [
        {"data": {"name": "b"},
         "mark": {"type": "rect", "stroke": "black", "strokeWidth": 1, "strokeOpacity": 0.85},
         "encoding": {
           "x": {"field": "x", "type": "quantitative", "bin": {"binned": true, "step": 5}, "scale": {"domain": [-50, 0], "nice": false, "zero": false},
                 "axis": {"values": [-50,-45,-40,-35,-30,-25,-20,-15,-10,-5,0], "labelExpr": "'' + datum.value", "labelPadding": 8, "title": "Polarizer TA (°)", "titleFontSize": 31, "titlePadding": 30}},
           "y": {"field": "y", "type": "quantitative", "bin": {"binned": true, "step": 5}, "scale": {"domain": [0, 300], "nice": false},
                 "axis": {"values": [0,50,100,150,200,250,300], "labelExpr": "'' + datum.value", "labelPadding": 5, "title": "+A 필름의 Δnd", "titleFontSize": 30, "titlePadding": 14}},
           "color": {"field": "v", "type": "quantitative", "scale": {"domain": [0, 0.125, 0.375, 0.625, 0.875, 1], "range": ["#000080", "#0000ff", "#00ffff", "#ffff00", "#ff0000", "#800000"], "interpolate": "rgb"}, "legend": null}
         }},
        {"data": {"values": [{"ref": 35}]},
         "mark": {"type": "rule", "strokeDash": [3, 2], "color": "#9a9a9a", "strokeWidth": 1.2},
         "encoding": {"y": {"field": "ref", "type": "quantitative"}}}
      ]
    }]
  }
]
}
